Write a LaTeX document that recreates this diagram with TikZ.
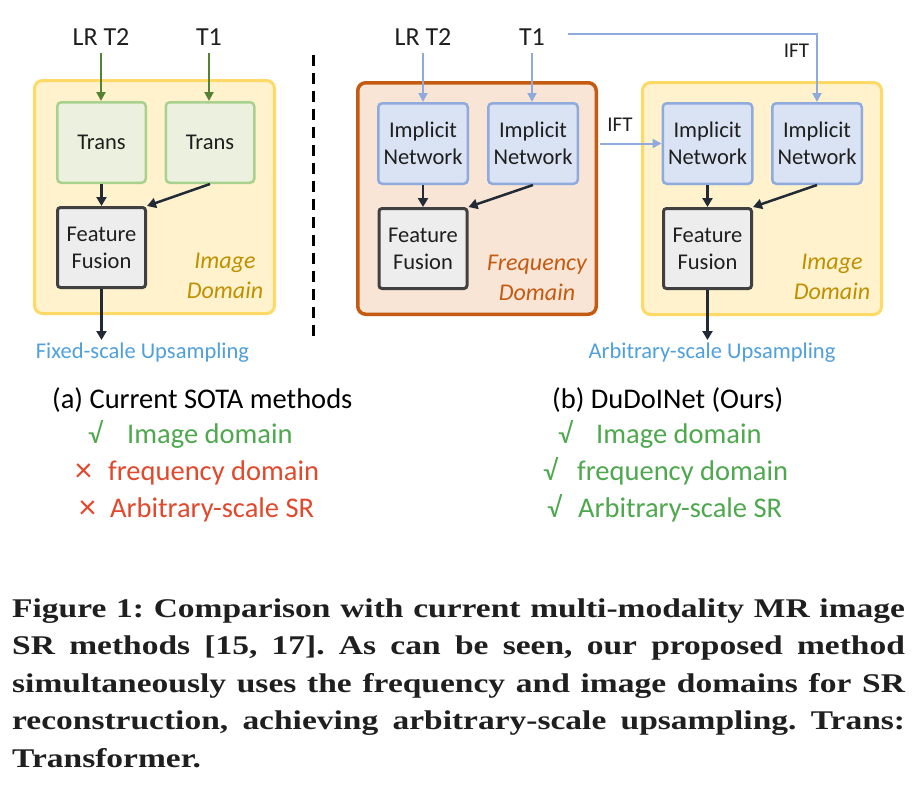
\documentclass[tikz,border=0pt]{standalone}
\usepackage{fontspec}
\setmainfont{Carlito}
\newfontfamily\capfont{Liberation Serif}
\usepackage{graphicx}
\usetikzlibrary{arrows.meta}
\definecolor{yelF}{HTML}{FFF2CC}
\definecolor{yelB}{HTML}{FFD966}
\definecolor{grF}{HTML}{EBF1DE}
\definecolor{grB}{HTML}{A9D18E}
\definecolor{ffF}{HTML}{EDEDED}
\definecolor{ffB}{HTML}{404040}
\definecolor{blF}{HTML}{DAE3F3}
\definecolor{blB}{HTML}{8FAADC}
\definecolor{orF}{HTML}{F8E5D6}
\definecolor{orB}{HTML}{C55A11}
\definecolor{gArr}{HTML}{548235}
\definecolor{dArr}{HTML}{222A35}
\definecolor{txtD}{HTML}{1F1F1F}
\definecolor{domImg}{HTML}{BF9000}
\definecolor{domFreq}{HTML}{C55A11}
\definecolor{upBlue}{HTML}{4FA0DC}
\definecolor{chkGreen}{HTML}{4EA84E}
\definecolor{xRed}{HTML}{E2492C}
\begin{document}
\frenchspacing
\begin{tikzpicture}[x=1pt,y=-1pt,
  outerY/.style={draw=yelB,fill=yelF,line width=3pt,rounded corners=8pt,inner sep=0pt},
  outerO/.style={draw=orB,fill=orF,line width=3.5pt,rounded corners=8pt,inner sep=0pt},
  inner/.style={line width=2.5pt,rounded corners=4pt,inner sep=0pt,align=center,
    text=txtD,font=\fontsize{22.5}{27}\selectfont},
  transbox/.style={inner,draw=grB,fill=grF,minimum width=88.5pt,minimum height=80.5pt},
  netbox/.style={inner,draw=blB,fill=blF,minimum width=89.5pt,minimum height=80.5pt},
  fusebox/.style={inner,draw=ffB,fill=ffF,line width=3pt,rounded corners=3pt,minimum width=88pt,minimum height=80pt},
  inlabel/.style={inner sep=0pt,text=txtD,font=\fontsize{26}{31}\selectfont},
  domlabel/.style={inner sep=0pt,align=center,font=\itshape\fontsize{24}{30}\selectfont},
  uplabel/.style={inner sep=0pt,text=upBlue,font=\fontsize{22.5}{27}\selectfont},
  iftlabel/.style={inner sep=0pt,text=txtD,font=\fontsize{21}{25}\selectfont},
  listtxt/.style={inner sep=0pt,anchor=base west,font=\fontsize{28.5}{34}\selectfont},
  xmark/.style={inner sep=0pt,anchor=base west,text=xRed,font=\fontsize{34}{34}\selectfont},
  captxt/.style={inner sep=0pt,anchor=base west,text=txtD,font=\capfont\bfseries\fontsize{27}{32}\selectfont},
  garrow/.style={draw=gArr,line width=2pt,shorten <=7pt,-{Triangle[length=9pt,width=9pt]}},
  barrow/.style={draw=blB,line width=2pt,-{Triangle[length=9pt,width=9pt]}},
  darrow/.style={draw=dArr,line width=2.5pt,-{Triangle[length=9pt,width=10pt]}}
]
\useasboundingbox[fill=white] (0,0) rectangle (916,804);

% ---------- left panel ----------
\node[outerY,minimum width=240pt,minimum height=233pt] (boxL) at (154.5,197) {};
\node[transbox] (ta) at (101.5,142.5) {Trans};
\node[transbox] (tb) at (210,142.5) {Trans};
\node[fusebox] (ffa) at (101.5,247.5) {Feature\\Fusion};
\node[domlabel,text=domImg] (domL) at (225,276) {Image\\Domain};
\node[inlabel] (lrA) at (101,37) {LR T2};
\node[inlabel] (t1A) at (209,37) {T1};
\draw[garrow] (lrA.south) -- (lrA.south |- ta.north);
\draw[garrow] (t1A.south) -- (t1A.south |- tb.north);
\draw[darrow] (ta.south) -- (ffa.north);
\draw[darrow] (tb.south) -- (ffa.north east);
\coordinate (outA) at (103,340);
\draw[darrow] (ffa.south) -- (ffa.south |- outA);
\node[uplabel] (fixed) at (142.5,353) {Fixed-scale Upsampling};

% ---------- divider ----------
\coordinate (dv1) at (313,55);
\coordinate (dv2) at (313,342);
\draw[line width=3pt,dash pattern=on 11pt off 7pt] (dv1) -- (dv2);

% ---------- right panel ----------
\node[outerO,minimum width=238.5pt,minimum height=231.5pt] (freq) at (477,198.5) {};
\node[outerY,minimum width=239pt,minimum height=232pt] (boxR) at (762,198.5) {};
\node[netbox] (n1) at (423,143.5) {Implicit\\Network};
\node[netbox] (n2) at (533,143.5) {Implicit\\Network};
\node[netbox] (n3) at (707.5,143.5) {Implicit\\Network};
\node[netbox] (n4) at (817,143.5) {Implicit\\Network};
\node[fusebox] (ff1) at (423,248.5) {Feature\\Fusion};
\node[fusebox] (ff2) at (707.5,248.5) {Feature\\Fusion};
\node[domlabel,text=domFreq] (domF) at (537,278) {Frequency\\Domain};
\node[domlabel,text=domImg] (domR) at (832,277) {Image\\Domain};
\node[inlabel] (lrB) at (423,37) {LR T2};
\node[inlabel] (t1B) at (532,37) {T1};
\draw[barrow,shorten <=7pt] (lrB.south) -- (lrB.south |- n1.north);
\draw[barrow,shorten <=7pt] (t1B.south) -- (t1B.south |- n2.north);
\coordinate (t1s) at (568,34);
\draw[barrow] (t1s) -| (n4.north);
\node[iftlabel] (iftTop) at (796.5,51) {IFT};
\draw[barrow,shorten <=2pt] (freq.east |- n3.west) -- (n3.west);
\node[iftlabel] (iftMid) at (620,124.5) {IFT};
\draw[darrow] (n1.south) -- (ff1.north);
\draw[darrow] (n2.south) -- (ff1.north east);
\draw[darrow] (n3.south) -- (ff2.north);
\draw[darrow] (n4.south) -- (ff2.north east);
\coordinate (outB) at (707,340);
\draw[darrow] (ff2.south) -- (ff2.south |- outB);
\node[uplabel] (arb) at (712,353) {Arbitrary-scale Upsampling};

% ---------- comparison lists ----------
\node[listtxt,text=black] (capA) at (52,408) {(a) Current SOTA methods};
\node[listtxt,text=chkGreen] (ckA1) at (88,443) {√};
\node[listtxt,text=chkGreen] (la1) at (127,443) {Image domain};
\node[xmark] (xA2) at (75,481) {×};
\node[listtxt,text=xRed] (la2) at (108,480) {frequency domain};
\node[xmark] (xA3) at (79,518) {×};
\node[listtxt,text=xRed] (la3) at (110,517) {Arbitrary-scale SR};

\node[listtxt,text=black] (capB) at (552,408) {(b) DuDoINet (Ours)};
\node[listtxt,text=chkGreen] (ckB1) at (558,443) {√};
\node[listtxt,text=chkGreen] (lb1) at (596,443) {Image domain};
\node[listtxt,text=chkGreen] (ckB2) at (543,480) {√};
\node[listtxt,text=chkGreen] (lb2) at (577,480) {frequency domain};
\node[listtxt,text=chkGreen] (ckB3) at (547,517) {√};
\node[listtxt,text=chkGreen] (lb3) at (578,517) {Arbitrary-scale SR};

% ---------- caption ----------
\node[captxt] (c1) at (12,617) {\scalebox{1.24}[1]{\makebox[720pt][s]{Figure 1: Comparison with current multi-modality MR image}}};
\node[captxt] (c2) at (12,654.5) {\scalebox{1.24}[1]{\makebox[720pt][s]{SR methods [15, 17]. As can be seen, our proposed method}}};
\node[captxt] (c3) at (12,692) {\scalebox{1.24}[1]{\makebox[720pt][s]{simultaneously uses the frequency and image domains for SR}}};
\node[captxt] (c4) at (12,729.5) {\scalebox{1.24}[1]{\makebox[720pt][s]{reconstruction, achieving arbitrary-scale upsampling. Trans:}}};
\node[captxt] (c5) at (12,767) {\scalebox{1.24}[1]{Transformer.}};
\end{tikzpicture}
\end{document}
